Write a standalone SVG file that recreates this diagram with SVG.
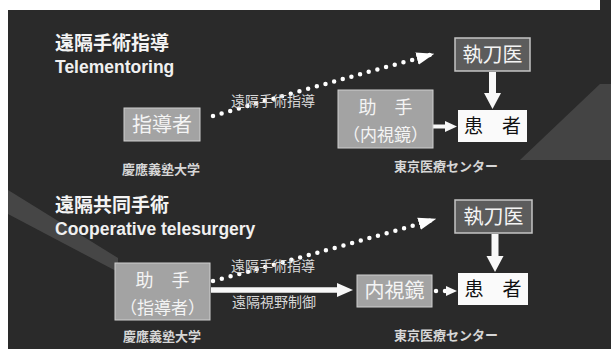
<svg xmlns="http://www.w3.org/2000/svg" width="611" height="349" viewBox="0 0 611 349">
<defs>
<style>
.jp{font-family:"Noto Sans CJK JP","Noto Sans",sans-serif}
.title{font-size:19px;font-weight:bold;fill:#f4f4f4}
.en{font-family:"Liberation Sans",Arial,sans-serif;font-size:17.5px;font-weight:bold;fill:#f0f0f0}
.lite{fill:#a3a3a3;stroke:#cfcfcf;stroke-width:1}
.dark{fill:#5c5c5c;stroke:#c4c4c4;stroke-width:1.5}
.white{fill:#fafafa}
.bt{font-size:20px;fill:#f4f4f4;text-anchor:middle}
.b1{font-size:18px}
.b2{font-size:17px}
.pt{font-size:19px;fill:#111;text-anchor:middle}
.cap{font-size:13px;fill:#d6d6d6;text-anchor:middle;font-weight:bold}
.lbl{font-size:14px;fill:#d8d8d8}
.dot{fill:none;stroke:#fff;stroke-width:4.5;stroke-linecap:round;stroke-dasharray:0 9}
.shaft{fill:none;stroke:#f8f8f8}
.head{fill:#f8f8f8}
</style>
<marker id="dh" markerWidth="4" markerHeight="4" refX="3" refY="2" orient="auto" markerUnits="strokeWidth">
<path d="M0,0.6 L4,2 L0,3.4 Z" fill="#fff"/>
</marker>
</defs>
<rect width="611" height="349" fill="#fff"/>
<rect x="8" y="10" width="603" height="339" fill="#2a2a2a"/>
<rect x="600" y="0" width="11" height="10" fill="#2a2a2a"/>
<polygon points="520,160 600,84 611,84 611,160" fill="#8a8a8a" opacity="0.28"/>
<polygon points="8,190 8,214 118,272 118,258" fill="#9a9a9a" opacity="0.25"/>

<g id="section1-title">
<text class="jp title" x="55" y="50">遠隔手術指導</text>
<text class="en" x="55" y="73">Telementoring</text>
</g>
<g id="section2-title">
<text class="jp title" x="55" y="212">遠隔共同手術</text>
<text class="en" x="55" y="235">Cooperative telesurgery</text>
</g>

<g id="connectors">
<path class="dot" d="M213,116 Q320,85 430,55" marker-end="url(#dh)"/>
<path class="dot" d="M213,281 Q330,250 432,220" marker-end="url(#dh)"/>
<path class="dot" d="M436,291 L448,291" stroke-dasharray="0 6"/>
<polygon class="head" points="446,286 457,291 446,296"/>
<line class="shaft" x1="492.5" y1="72" x2="492.5" y2="95" stroke-width="7"/>
<polygon class="head" points="484,93 501,93 492.5,109"/>
<line class="shaft" x1="495" y1="234" x2="495" y2="258" stroke-width="7"/>
<polygon class="head" points="486.5,256 503.5,256 495,272"/>
<line class="shaft" x1="433" y1="126.5" x2="447" y2="126.5" stroke-width="4"/>
<polygon class="head" points="445,121 457,126.5 445,132"/>
<line class="shaft" x1="211" y1="290" x2="340" y2="290" stroke-width="5.5"/>
<polygon class="head" points="337,283 353,290 337,297"/>
<text class="jp lbl" x="231" y="106">遠隔手術指導</text>
<text class="jp lbl" x="231" y="271">遠隔手術指導</text>
<text class="jp lbl" x="232" y="307">遠隔視野制御</text>
</g>

<g id="node-shidousha">
<rect class="lite" x="124" y="108" width="76" height="33"/>
<text class="jp bt" x="162" y="132">指導者</text>
</g>
<g id="cap-keio1"><text class="jp cap" x="161" y="174">慶應義塾大学</text></g>
<g id="node-shitoui1">
<rect class="dark" x="455" y="38" width="75" height="33"/>
<text class="jp bt" x="492.5" y="62">執刀医</text>
</g>
<g id="node-joshu1">
<rect class="lite" x="338" y="90" width="95" height="58"/>
<text class="jp bt b1" x="385.5" y="114">助　手</text>
<text class="jp bt b2" x="385.5" y="141">（内視鏡）</text>
</g>
<g id="node-kanja1">
<rect class="white" x="458" y="110" width="69" height="32"/>
<text class="jp pt" x="492.5" y="133">患　者</text>
</g>
<g id="cap-tokyo1"><text class="jp cap" x="446" y="171">東京医療センター</text></g>

<g id="node-joshu2">
<rect class="lite" x="115" y="263" width="95" height="57"/>
<text class="jp bt b1" x="162.5" y="287">助　手</text>
<text class="jp bt b2" x="162.5" y="314">（指導者）</text>
</g>
<g id="cap-keio2"><text class="jp cap" x="162" y="341">慶應義塾大学</text></g>
<g id="node-shitoui2">
<rect class="dark" x="455" y="200" width="77" height="33"/>
<text class="jp bt" x="493.5" y="224">執刀医</text>
</g>
<g id="node-naishikyo">
<rect class="lite" x="357" y="275" width="75" height="32"/>
<text class="jp bt" x="394.5" y="298">内視鏡</text>
</g>
<g id="node-kanja2">
<rect class="white" x="458" y="273" width="70" height="32"/>
<text class="jp pt" x="493" y="296">患　者</text>
</g>
<g id="cap-tokyo2"><text class="jp cap" x="446" y="340">東京医療センター</text></g>
</svg>
